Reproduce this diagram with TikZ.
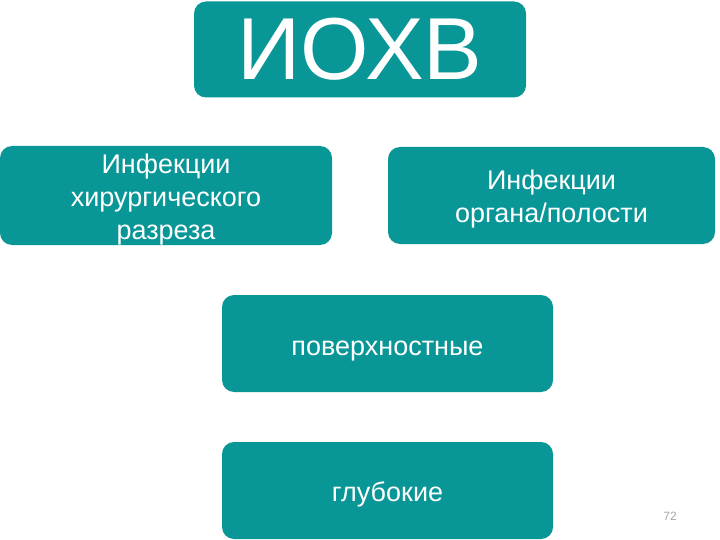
\documentclass[tikz,border=0pt]{standalone}
\usepackage{fontspec}
\setmainfont{Liberation Sans}
\definecolor{teal1}{RGB}{8,150,150}
\newcommand\lowr[2]{\raisebox{-#1}[\height][\depth]{\begin{tabular}{@{}c@{}}#2\end{tabular}}}
\begin{document}
\begin{tikzpicture}[x=1pt,y=-1pt,
  box/.style={fill=teal1, rounded corners=12pt, inner sep=0pt, text=white, align=center},
  lbl/.style={font=\fontsize{27}{33}\selectfont}]
\useasboundingbox[fill=white] (0,0) rectangle (720,540);
\node[box, minimum width=332pt, minimum height=96pt, font=\fontsize{88}{88}\selectfont] (top) at (360,49.5) {ИОХВ};
\node[box, lbl, minimum width=332pt, minimum height=97pt] (left) at (166,195.5) {\lowr{4pt}{Инфекции\\хирургического\\разреза}};
\node[box, lbl, minimum width=327pt, minimum height=97pt] (right) at (551.5,195.5) {\lowr{4pt}{Инфекции\\органа/полости}};
\node[box, lbl, minimum width=331pt, minimum height=97pt] (mid) at (387.5,343.5) {\lowr{5pt}{поверхностные}};
\node[box, lbl, minimum width=331pt, minimum height=97pt] (bot) at (387.5,490.5) {\lowr{4pt}{глубокие}};
\node[text=gray!70, font=\fontsize{12}{12}\selectfont] (num) at (670,516) {72};
\end{tikzpicture}
\end{document}
